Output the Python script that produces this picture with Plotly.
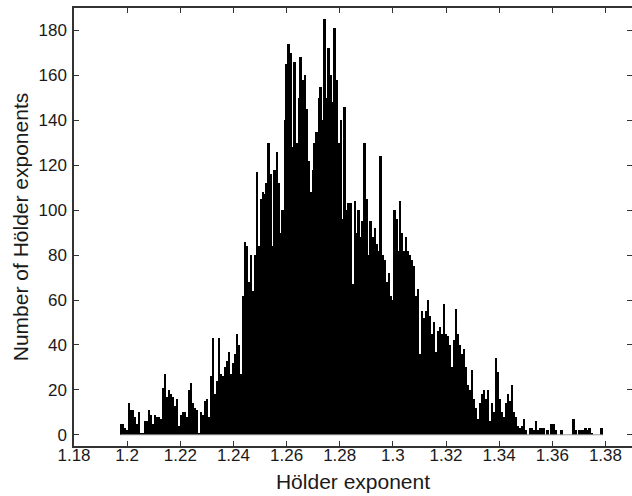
import numpy as np
import plotly.graph_objects as go

# Histogram of Hölder exponents: first bin edge, bin width and per-bin counts
bin_start = 1.1975
bin_width = 0.00075
counts = [
    5, 5, 3, 2, 14, 11, 11, 8, 5, 10,
    1, 1, 6, 6, 11, 9, 5, 9, 8, 8,
    7, 21, 27, 17, 20, 18, 17, 13, 16, 4,
    9, 10, 10, 8, 20, 23, 14, 12, 11, 1,
    10, 9, 15, 16, 8, 26, 43, 18, 24, 43,
    27, 26, 30, 33, 37, 27, 32, 36, 45, 40,
    27, 62, 86, 84, 68, 80, 64, 80, 117, 84,
    105, 108, 107, 112, 130, 116, 84, 118, 126, 112,
    90, 100, 140, 165, 174, 170, 128, 166, 130, 150,
    168, 158, 160, 145, 122, 108, 118, 130, 135, 150,
    155, 140, 185, 150, 172, 160, 148, 181, 158, 130,
    140, 96, 146, 100, 103, 103, 67, 104, 90, 100,
    88, 95, 130, 105, 80, 95, 88, 92, 85, 82,
    124, 80, 78, 68, 72, 62, 60, 100, 96, 82,
    104, 90, 82, 88, 82, 80, 78, 75, 62, 65,
    36, 55, 52, 55, 60, 53, 45, 50, 37, 46,
    48, 45, 58, 45, 44, 40, 30, 42, 56, 45,
    40, 36, 38, 30, 22, 20, 29, 16, 12, 7,
    14, 18, 20, 16, 20, 6, 14, 10, 34, 28,
    16, 10, 8, 14, 18, 15, 22, 10, 8, 4,
    3, 4, 7, 2, 0, 3, 3, 2, 6, 2,
    3, 3, 3, 0, 2, 0, 5, 5, 2, 0,
    0, 2, 0, 0, 0, 0, 0, 7, 2, 0,
    2, 2, 2, 3, 2, 3, 1, 0, 0, 0,
    0, 3,
]

x_ticks = [1.18, 1.20, 1.22, 1.24, 1.26, 1.28, 1.30, 1.32, 1.34, 1.36, 1.38]
x_tick_text = ["1.18", "1.2", "1.22", "1.24", "1.26", "1.28", "1.3", "1.32", "1.34", "1.36", "1.38"]
y_ticks = [0, 20, 40, 60, 80, 100, 120, 140, 160, 180]

n_bins = len(counts)
edges = bin_start + bin_width * np.arange(n_bins + 1)
centers = edges[:-1] + bin_width / 2

FONT = "Liberation Sans, Arial, sans-serif"
TEXT = "#1a1a1a"
AXIS = "#333333"

fig = go.Figure()
fig.add_trace(go.Bar(
    x=centers, y=counts, width=bin_width,
    marker=dict(color="black", line=dict(width=0)),
    showlegend=False, hoverinfo="x+y",
))
# thin baseline under the empty bins
fig.add_trace(go.Scatter(
    x=[edges[0], edges[-1]], y=[0, 0], mode="lines",
    line=dict(color="#9a9a9a", width=1),
    yaxis="y2", showlegend=False, hoverinfo="skip",
))

fig.update_layout(
    width=632, height=496,
    margin=dict(l=74, r=0, t=8, b=50),
    paper_bgcolor="white", plot_bgcolor="white",
    bargap=0,
    font=dict(family=FONT, color=TEXT, size=17),
    xaxis=dict(
        range=[1.18, 1.39],
        tickmode="array", tickvals=x_ticks, ticktext=x_tick_text,
        ticks="inside", ticklen=5, tickwidth=1, tickcolor=AXIS,
        showline=True, linecolor=AXIS, linewidth=2, mirror="ticks",
        showgrid=False, zeroline=False,
        tickfont=dict(size=17, family=FONT, color=TEXT),
        ticklabelstandoff=-7,
        title=dict(text="Hölder exponent", font=dict(size=21, family=FONT, color=TEXT), standoff=10),
    ),
    yaxis=dict(
        range=[-5, 190],
        tickmode="array", tickvals=y_ticks,
        ticks="inside", ticklen=5, tickwidth=1, tickcolor=AXIS,
        showline=True, linecolor=AXIS, linewidth=1.5,
        showgrid=False, zeroline=False,
        tickfont=dict(size=17, family=FONT, color=TEXT),
        ticklabelstandoff=2,
        title=dict(text="Number of Hölder exponents", font=dict(size=21, family=FONT, color=TEXT), standoff=4),
    ),
    yaxis2=dict(
        range=[-5, 190], overlaying="y", side="right",
        tickmode="array", tickvals=y_ticks,
        ticks="inside", ticklen=5, tickwidth=1, tickcolor=AXIS,
        showticklabels=False, showline=False, showgrid=False, zeroline=False,
    ),
)

fig.write_html("out.html")
